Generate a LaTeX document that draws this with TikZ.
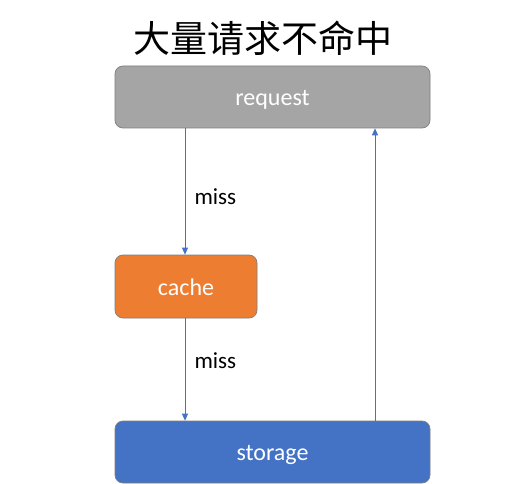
\documentclass[tikz,border=0pt]{standalone}
\usepackage{fontspec}
\setmainfont{Carlito}
\newfontfamily\cjk{Noto Sans CJK SC}
\usetikzlibrary{arrows.meta}
\definecolor{reqgray}{HTML}{A5A5A5}
\definecolor{cacheorange}{HTML}{ED7D31}
\definecolor{storeblue}{HTML}{4472C4}
\definecolor{edgegray}{HTML}{7F7F7F}
\begin{document}
\begin{tikzpicture}[x=1pt,y=-1pt,
  box/.style={draw=edgegray, line width=0.7pt, rounded corners=8pt, text=white, font=\fontsize{24}{26}\selectfont, text height=17pt, text depth=0pt},
  conn/.style={draw=storeblue, line width=0.8pt, -{Triangle[length=7pt,width=6pt]}},
  lbl/.style={font=\fontsize{23}{26}\selectfont, text=black}]
\useasboundingbox (0,0) rectangle (528,484);
\fill[white] (0,0) rectangle (528,484);
\node[font=\cjk\fontsize{37}{40}\selectfont, text=black] (title) at (263,38) {大量请求不命中};
\node[box, fill=reqgray, minimum width=315pt, minimum height=62pt] (request) at (272.5,97) {request};
\node[box, fill=cacheorange, minimum width=142pt, minimum height=63pt] (cache) at (186,286.5) {cache};
\node[box, fill=storeblue, minimum width=315pt, minimum height=62pt] (storage) at (272.5,452) {storage};
\draw[conn] (request.south -| 185,0) -- (cache.north -| 185,0);
\draw[conn] (cache.south -| 185,0) -- (storage.north -| 185,0);
\draw[conn] (storage.north -| 375,0) -- (request.south -| 375,0);
\node[lbl, anchor=west] (miss1) at (191,197) {miss};
\node[lbl, anchor=west] (miss2) at (191,361) {miss};
\end{tikzpicture}
\end{document}
